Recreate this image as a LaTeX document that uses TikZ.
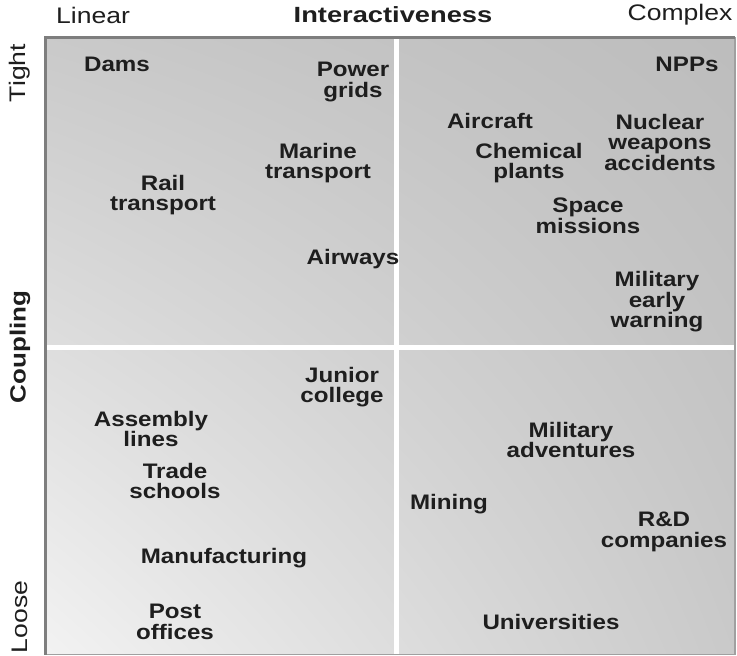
\documentclass[tikz,border=0pt]{standalone}
\usepackage{fontspec}
\usetikzlibrary{shadings}
\newfontfamily\labfont[FakeStretch=1.15]{Liberation Sans}
\newfontfamily\headfont[FakeStretch=1.18]{Liberation Sans}
\newfontfamily\headwide[FakeStretch=1.24]{Liberation Sans}
\definecolor{txt}{HTML}{1E1E1E}
\definecolor{frameA}{HTML}{7E7E7E}
\definecolor{frameB}{HTML}{A0A0A0}
\tikzset{
  item/.style={inner sep=0pt, align=center, text=txt,
    font=\labfont\bfseries\fontsize{21}{20.5}\selectfont},
  head/.style={inner sep=0pt, text=txt, font=\headfont\fontsize{22.5}{22.5}\selectfont},
  headbold/.style={head, font=\headfont\bfseries\fontsize{22}{22}\selectfont},
  headboldwide/.style={head, font=\headwide\bfseries\fontsize{22}{22}\selectfont},
  divider/.style={draw=white, line width=5pt},
}
\begin{document}
\begin{tikzpicture}[x=1pt,y=-1pt]
\useasboundingbox (0,0) rectangle (737,656);
\fill[white] (0,0) rectangle (737,656);
% panel background
\shade[upper left=black!21, upper right=black!26, lower left=black!5, lower right=black!21]
  (45.5,37) rectangle (735,654.5);
% dividers
\coordinate (vt) at (396.5,37);
\coordinate (vb) at (396.5,654.5);
\coordinate (hl) at (45.5,347.5);
\coordinate (hr) at (735,347.5);
\draw[divider] (vt) -- (vb);
\draw[divider] (hl) -- (hr);
% frame
\coordinate (tl) at (45.5,37);
\coordinate (tr) at (735,37);
\coordinate (bl) at (45.5,654.5);
\coordinate (br) at (735,654.5);
\draw[frameB, line width=1.5pt] (tr) -- (br) -- (bl);
\draw[frameA, line width=3pt] (bl) -- (tl) -- (tr);
% axis headers
\node[head] (linear) at (93,15) {Linear};
\node[headboldwide] (inter) at (393,15) {Interactiveness};
\node[head] (complex) at (680,15) {Complex};
\node[head, rotate=90] (tight) at (20,73) {Tight};
\node[headbold, rotate=90] (coupling) at (20,347) {Coupling};
\node[head, rotate=90] (loose) at (20,617) {Loose};
% items
\node[item] (dams) at (117,64) {Dams};
\node[item] (power) at (353,82) {Power\\grids};
\node[item] (npps) at (687,64) {NPPs};
\node[item] (aircraft) at (490,121) {Aircraft};
\node[item] (nuclear) at (660,142) {Nuclear\\weapons\\accidents};
\node[item] (chem) at (529,163) {Chemical\\plants};
\node[item] (marine) at (318,163) {Marine\\transport};
\node[item] (rail) at (163,195) {Rail\\transport};
\node[item] (space) at (588,216) {Space\\missions};
\node[item] (airways) at (353,259) {Airways};
\node[item] (milew) at (657,302) {Military\\early\\warning};
\node[item] (junior) at (342,387) {Junior\\college};
\node[item] (assembly) at (151,429) {Assembly\\lines};
\node[item] (trade) at (175,481) {Trade\\schools};
\node[item] (miladv) at (571,440) {Military\\adventures};
\node[item] (mining) at (449,504) {Mining};
\node[item] (rnd) at (664,532) {R\&D\\companies};
\node[item] (manuf) at (224,558) {Manufacturing};
\node[item] (post) at (175,622) {Post\\offices};
\node[item] (univ) at (551,622) {Universities};
\end{tikzpicture}
\end{document}
